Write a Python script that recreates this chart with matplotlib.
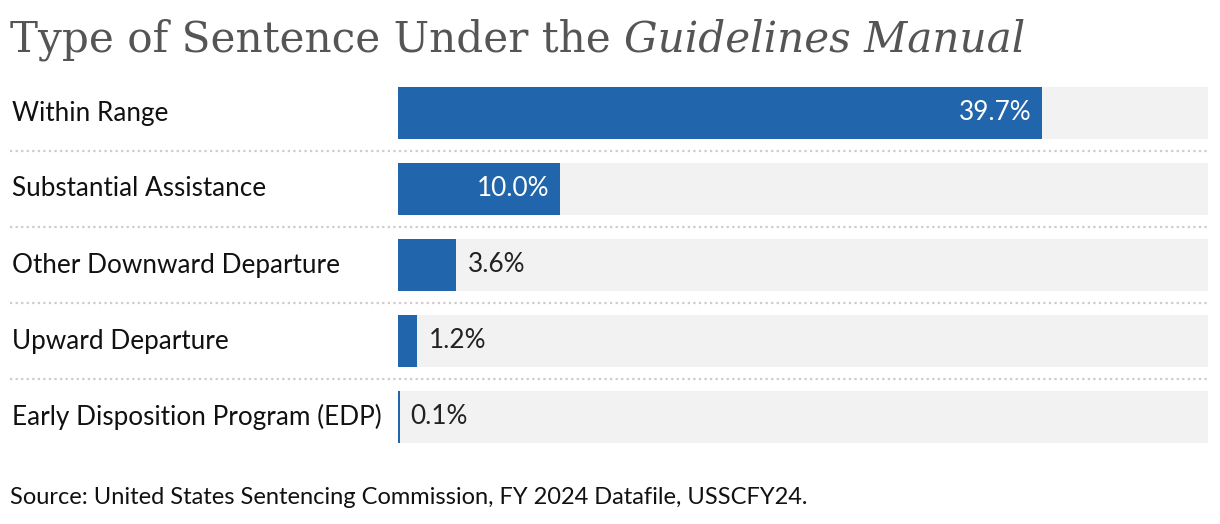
import matplotlib
matplotlib.use("Agg")
import matplotlib.pyplot as plt
from matplotlib.transforms import blended_transform_factory

categories = ["Within Range", "Substantial Assistance", "Other Downward Departure",
              "Upward Departure", "Early Disposition Program (EDP)"]
values = [39.7, 10.0, 3.6, 1.2, 0.1]
value_labels = ["39.7%", "10.0%", "3.6%", "1.2%", "0.1%"]
axis_max = 49.9

W, H = 1220, 524
fig = plt.figure(figsize=(W / 100, H / 100), dpi=100)
fig.patch.set_facecolor("white")

ax_left, ax_right = 398, 1208
ax_top, ax_bottom = 75, 455
ax = fig.add_axes([ax_left / W, (H - ax_bottom) / H,
                   (ax_right - ax_left) / W, (ax_bottom - ax_top) / H])
ax.set_xlim(0, axis_max)
ax.set_ylim(len(categories) - 0.5, -0.5)
ax.axis("off")

bar_color = "#2166ac"
bg_color = "#f2f2f2"
bh = 52 / 76
ys = list(range(len(categories)))
ax.barh(ys, [axis_max] * len(ys), height=bh, color=bg_color, zorder=1)
ax.barh(ys, values, height=bh, color=bar_color, zorder=2)

lab_font = "Lato"
fs = 18.8
for y, v, lab in zip(ys, values, value_labels):
    if v > 8:
        ax.annotate(lab, (v, y), xytext=(-8, 0), textcoords="offset points",
                    ha="right", va="center", color="white", fontsize=fs,
                    family=lab_font, zorder=3)
    else:
        ax.annotate(lab, (v, y), xytext=(8, 0), textcoords="offset points",
                    ha="left", va="center", color="#222222", fontsize=fs,
                    family=lab_font, zorder=3)

trans = blended_transform_factory(fig.transFigure, ax.transData)
for y, c in zip(ys, categories):
    fig.text(12 / W, y, c, transform=trans, ha="left", va="center",
             fontsize=fs, family=lab_font, color="#111111")

for y in [0.5, 1.5, 2.5, 3.5]:
    ax.plot([10 / W, ax_right / W], [y, y], transform=trans, clip_on=False,
            color="#cccccc", lw=1.6, linestyle=(0, (1, 1.5)), zorder=0)

title_fs = 30.3
fig.text(10 / W, 1 - 40 / H, "Type of Sentence Under the ", ha="left", va="center",
         fontsize=title_fs, family="DejaVu Serif", color="#555555")
t1 = fig.texts[-1]
fig.canvas.draw()
bb = t1.get_window_extent()
fig.text(bb.x1 / W, 1 - 40 / H, "Guidelines Manual", ha="left", va="center",
         fontsize=title_fs, family="DejaVu Serif", style="italic", color="#555555")

fig.text(10 / W, 1 - 498 / H, "Source: United States Sentencing Commission, FY 2024 Datafile, USSCFY24.",
         ha="left", va="center", fontsize=17, family=lab_font, color="#111111")

fig.savefig("out.png", dpi=100, facecolor="white")
